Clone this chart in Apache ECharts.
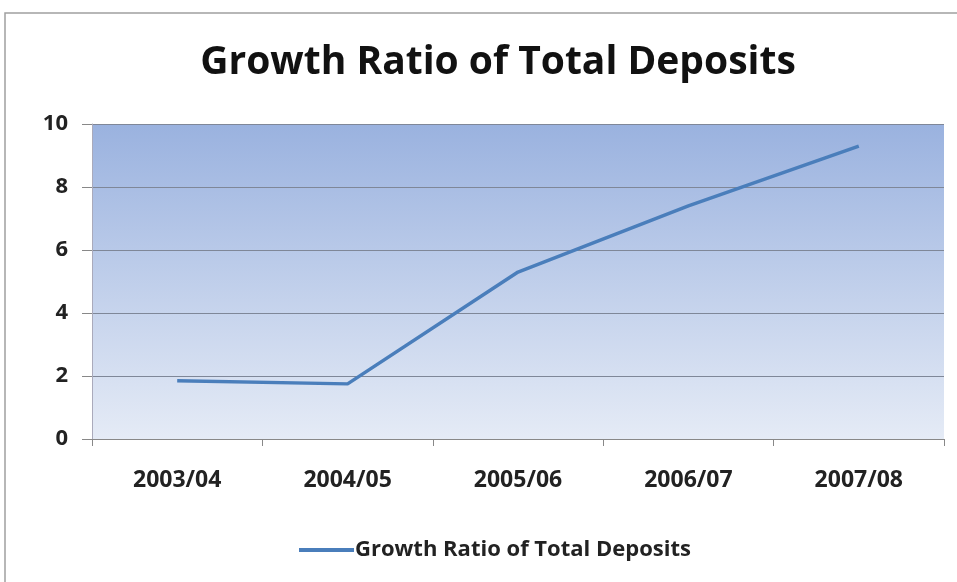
<!DOCTYPE html>
<html>
<head>
<meta charset="utf-8">
<script src="https://cdn.jsdelivr.net/npm/echarts@6/dist/echarts.min.js"></script>
<style>
  html, body { margin: 0; padding: 0; background: #fff; }
  #chart { width: 957px; height: 582px; }
</style>
</head>
<body>
<div id="chart"></div>
<script>
// data
const years = ['2003/04', '2004/05', '2005/06', '2006/07', '2007/08'];
const growthRatio = [1.85, 1.75, 5.3, 7.4, 9.3];
const seriesName = 'Growth Ratio of Total Deposits';

const chart = echarts.init(document.getElementById('chart'));

const labelFont = {
    color: '#222',
    fontFamily: 'Open Sans',
    fontWeight: 'bold',
    fontSize: 22
};

chart.setOption({
    animation: false,
    title: {
        text: 'Growth Ratio of Total Deposits',
        left: 493,
        textAlign: 'center',
        top: 38,
        textStyle: {
            color: '#111',
            fontFamily: 'Open Sans',
            fontWeight: 'bold',
            fontSize: 39
        }
    },
    graphic: [{
        type: 'rect',
        shape: { x: 5, y: 13, width: 1000, height: 1000 },
        style: { fill: 'none', stroke: '#a0a0a0', lineWidth: 1.5 },
        silent: true
    }],
    grid: {
        left: 92,
        right: 13,
        top: 124,
        bottom: 143,
        show: true,
        borderWidth: 0,
        backgroundColor: {
            type: 'linear', x: 0, y: 0, x2: 0, y2: 1,
            colorStops: [
                { offset: 0, color: '#9ab2df' },
                { offset: 1, color: '#e5ebf6' }
            ]
        }
    },
    legend: {
        bottom: 16,
        left: 294,
        icon: 'rect',
        itemWidth: 55,
        itemHeight: 4,
        itemGap: 0,
        textStyle: Object.assign({}, labelFont, { padding: [0, 0, 0, -4] }),
        data: [seriesName]
    },
    xAxis: {
        type: 'category',
        data: years,
        boundaryGap: true,
        axisLine: { lineStyle: { color: '#888' } },
        axisTick: { show: true, length: 7, lineStyle: { color: '#888' } },
        axisLabel: Object.assign({ margin: 30 }, labelFont, { fontSize: 23 })
    },
    yAxis: {
        type: 'value',
        min: 0,
        max: 10,
        interval: 2,
        axisLine: { show: true, lineStyle: { color: '#aab' } },
        axisTick: { show: true, length: 10, lineStyle: { color: '#888' } },
        axisLabel: Object.assign({ margin: 24 }, labelFont),
        splitLine: { lineStyle: { color: '#7f8798', width: 1 } }
    },
    series: [{
        name: seriesName,
        type: 'line',
        data: growthRatio,
        symbol: 'none',
        lineStyle: { color: '#4a7ebb', width: 3.5 },
        itemStyle: { color: '#4a7ebb' }
    }]
});
</script>
</body>
</html>
